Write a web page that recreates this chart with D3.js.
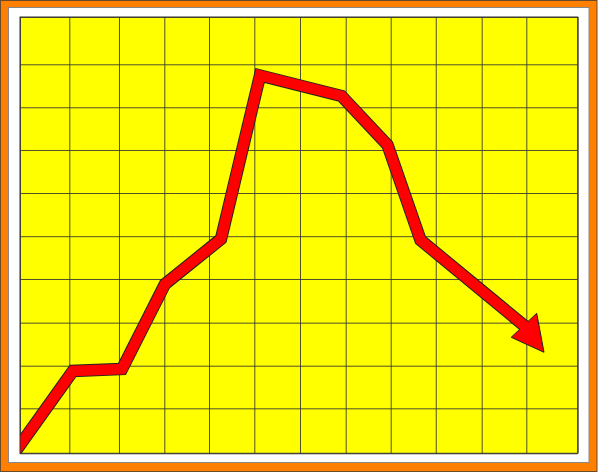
<!DOCTYPE html>
<html>
<head>
<meta charset="utf-8">
<script src="https://cdn.jsdelivr.net/npm/d3@7"></script>
<style>
  body { margin: 0; background: #fff; }
</style>
</head>
<body>
<script>
'use strict';

const w = 600;
const h = 475;

// grid line positions (data units)
const xGrid = [0, 1.061, 2.130, 3.105, 4.067, 5.042, 6.025, 7.008, 7.976, 8.946, 9.934, 10.894, 12];
const yGrid = [0, 1.031, 2.008, 2.994, 3.995, 4.976, 5.966, 6.952, 7.931, 8.916, 10];

// trend line vertices
const xs = [-0.215, 1.140, 2.195, 3.120, 4.325, 5.164, 6.918, 7.908, 8.618, 10.90];
const ys = [-0.13, 1.889, 1.932, 3.880, 4.912, 8.659, 8.189, 7.066, 4.887, 2.88];

// arrow head: left corner, tip, top corner
const headX = [10.569, 11.275, 11.118];
const headY = [2.659, 2.315, 3.209];

const svg = d3.select('body').append('svg').attr('width', w).attr('height', h);

// frame
svg.append('rect')
  .attr('x', 0.5).attr('y', 0.5).attr('width', 596.5).attr('height', 471)
  .attr('fill', '#ff8000').attr('stroke', '#6b4a2a');
svg.append('rect')
  .attr('x', 8.5).attr('y', 7.5).attr('width', 580.5).attr('height', 455)
  .attr('fill', '#fff').attr('stroke', '#888');

const x = d3.scaleLinear().domain([0, 12]).range([20, 577.7]);
const y = d3.scaleLinear().domain([0, 10]).range([453.3, 17]);

svg.append('rect')
  .attr('x', x(0)).attr('y', y(10))
  .attr('width', x(12) - x(0)).attr('height', y(0) - y(10))
  .attr('fill', '#ffff00');

svg.append('clipPath').attr('id', 'plot')
  .append('rect')
  .attr('x', x(0)).attr('y', y(10))
  .attr('width', x(12) - x(0)).attr('height', y(0) - y(10));

// grid
svg.append('g')
  .attr('transform', `translate(0,${y(0)})`)
  .call(d3.axisBottom(x).tickValues(xGrid).tickSize(-(y(0) - y(10))).tickFormat(''))
  .call(g => g.select('.domain').remove())
  .selectAll('line').attr('stroke', '#333').attr('stroke-opacity', 0.85);

svg.append('g')
  .attr('transform', `translate(${x(0)},0)`)
  .call(d3.axisLeft(y).tickValues(yGrid).tickSize(-(x(12) - x(0))).tickFormat(''))
  .call(g => g.select('.domain').remove())
  .selectAll('line').attr('stroke', '#333').attr('stroke-opacity', 0.85);

const pts = xs.map((d, i) => [d, ys[i]]);
const line = d3.line().x(d => x(d[0])).y(d => y(d[1]));

const trend = svg.append('g').attr('clip-path', 'url(#plot)');

// outline under the red band
trend.append('path')
  .attr('d', line(pts))
  .attr('fill', 'none')
  .attr('stroke', '#222')
  .attr('stroke-width', 12.5)
  .attr('stroke-linejoin', 'miter')
  .attr('stroke-miterlimit', 10);

trend.append('path')
  .attr('d', line(headX.map((d, i) => [d, headY[i]])) + 'Z')
  .attr('fill', '#ff0000')
  .attr('stroke', '#222')
  .attr('stroke-width', 1)
  .attr('stroke-linejoin', 'miter');

trend.append('path')
  .attr('d', line(pts))
  .attr('fill', 'none')
  .attr('stroke', '#ff0000')
  .attr('stroke-width', 10.5)
  .attr('stroke-linejoin', 'miter')
  .attr('stroke-miterlimit', 10);

// plot border
svg.append('rect')
  .attr('x', x(0)).attr('y', y(10))
  .attr('width', x(12) - x(0)).attr('height', y(0) - y(10))
  .attr('fill', 'none').attr('stroke', '#333');
</script>
</body>
</html>
